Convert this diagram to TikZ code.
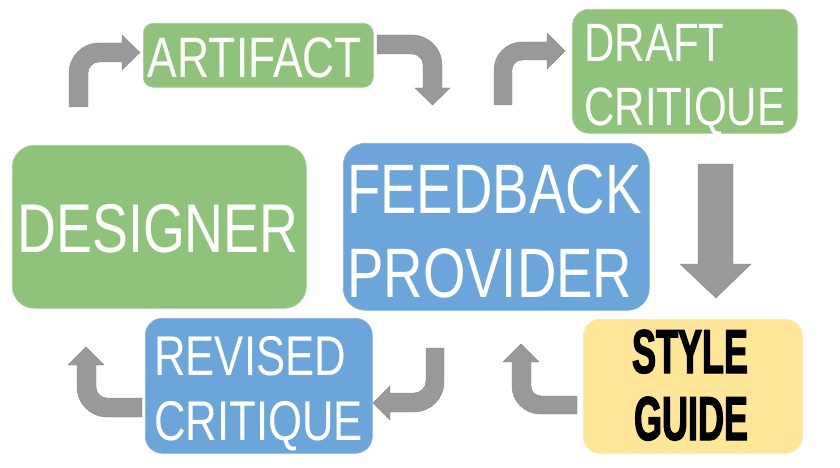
\documentclass[tikz,border=0pt]{standalone}
\usepackage{fontspec}
\setmainfont{Liberation Sans}
\newfontfamily\condf[FakeStretch=0.78]{Liberation Sans}
\newfontfamily\impactf[FakeStretch=0.58,FakeBold=2]{Liberation Sans}
\definecolor{boxgreen}{HTML}{8FC37B}
\definecolor{boxblue}{HTML}{6CA5DA}
\definecolor{boxyellow}{HTML}{FFE699}
\definecolor{arrowgray}{HTML}{999999}
\definecolor{arrowedge}{HTML}{8A8A8A}
\begin{document}
\begin{tikzpicture}[x=1pt,y=-1pt,
  stagebox/.style={rectangle, anchor=north west, inner sep=0pt, line width=0.6pt},
  greenbox/.style={stagebox, fill=boxgreen, draw=boxgreen!80!white},
  bluebox/.style={stagebox, fill=boxblue, draw=boxblue!85!white},
  yellowbox/.style={stagebox, fill=boxyellow, draw=boxyellow!90!white},
  wtext/.style={inner sep=0pt, text=white},
  blockarrow/.style={fill=arrowgray, draw=arrowedge, line width=0.4pt}]
\useasboundingbox (0,0) rectangle (840,468);

% boxes
\node[greenbox, rounded corners=10pt, minimum width=230pt, minimum height=64pt] (artifact) at (143,23) {};
\node[greenbox, rounded corners=17pt, minimum width=225pt, minimum height=124pt] (draft) at (572,9) {};
\node[greenbox, rounded corners=22pt, minimum width=294pt, minimum height=163pt] (designer) at (12,145) {};
\node[bluebox, rounded corners=22pt, minimum width=306pt, minimum height=167pt] (feedback) at (343,143) {};
\node[bluebox, rounded corners=17pt, minimum width=227pt, minimum height=135pt] (revised) at (145,318) {};
\node[yellowbox, rounded corners=17pt, minimum width=219pt, minimum height=134pt] (style) at (583,319) {};

% texts
\node[wtext, anchor=base, font=\condf\fontsize{57}{60}\selectfont] (artifactT) at (255,78) {ARTIFACT};
\node[wtext, anchor=base west, font=\condf\fontsize{54}{60}\selectfont] (draftT1) at (584,62) {DRAFT};
\node[wtext, anchor=base west, font=\condf\fontsize{54}{60}\selectfont] (draftT2) at (584,125) {CRITIQUE};
\node[wtext, anchor=base, font=\condf\fontsize{69}{70}\selectfont] (designerT) at (158,252) {DESIGNER};
\node[wtext, anchor=base west, font=\condf\fontsize{70}{70}\selectfont] (feedbackT1) at (347,213) {FEEDBACK};
\node[wtext, anchor=base west, font=\condf\fontsize{70}{70}\selectfont] (feedbackT2) at (347,297) {PROVIDER};
\node[wtext, anchor=base west, font=\condf\fontsize{56}{60}\selectfont] (revisedT1) at (154,375) {REVISED};
\node[wtext, anchor=base west, font=\condf\fontsize{56}{60}\selectfont] (revisedT2) at (154,440) {CRITIQUE};
\node[inner sep=0pt, text=black, anchor=base, font=\impactf\bfseries\fontsize{62}{62}\selectfont] (styleT1) at (690,373) {STYLE};
\node[inner sep=0pt, text=black, anchor=base, font=\impactf\bfseries\fontsize{62}{62}\selectfont] (styleT2) at (691,440) {GUIDE};

% block arrows
% designer -> artifact
\path[blockarrow] (69,107) -- (69,73) .. controls (69,56.4) and (82.4,43) .. (99,43) -- (122,43) -- (122,35) -- (140,52.5) -- (122,70) -- (122,62) -- (99,62) .. controls (92.9,62) and (88,66.9) .. (88,73) -- (88,107) -- cycle;
% artifact -> feedback provider
\path[blockarrow] (377,35) -- (412,35) .. controls (428.6,35) and (442,48.4) .. (442,65) -- (442,88) -- (450,88) -- (432.5,105) -- (415,88) -- (423,88) -- (423,65) .. controls (423,58.9) and (418.1,54) .. (412,54) -- (377,54) -- cycle;
% feedback provider -> draft critique
\path[blockarrow] (494,105) -- (494,70) .. controls (494,54.5) and (506.5,42) .. (522,42) -- (547,42) -- (547,33) -- (565,51) -- (547,69) -- (547,60) -- (522,60) .. controls (516.5,60) and (512,64.5) .. (512,70) -- (512,105) -- cycle;
% draft critique -> style guide
\path[blockarrow] (698,164) -- (733,164) -- (733,264) -- (751,264) -- (716,298) -- (680,264) -- (698,264) -- cycle;
% style guide -> feedback provider
\path[blockarrow] (577,396) -- (577,414) -- (540,414) .. controls (524.5,414) and (512,401.5) .. (512,386) -- (512,362) -- (503,362) -- (521,344) -- (539,362) -- (531,362) -- (531,386) .. controls (531,391.5) and (535.5,396) .. (541,396) -- cycle;
% feedback provider -> revised critique
\path[blockarrow] (426,348) -- (444,348) -- (444,382) .. controls (444,398.6) and (430.6,412) .. (414,412) -- (390,412) -- (390,420) -- (373,403) -- (390,386) -- (390,393) -- (414,393) .. controls (420.6,393) and (426,387.6) .. (426,381) -- cycle;
% revised critique -> designer
\path[blockarrow] (142,398) -- (142,417) -- (107,417) .. controls (90.4,417) and (77,403.6) .. (77,387) -- (77,365) -- (68,365) -- (86,347) -- (104,365) -- (96,365) -- (96,387) .. controls (96,393.1) and (100.9,398) .. (107,398) -- cycle;
\end{tikzpicture}
\end{document}
